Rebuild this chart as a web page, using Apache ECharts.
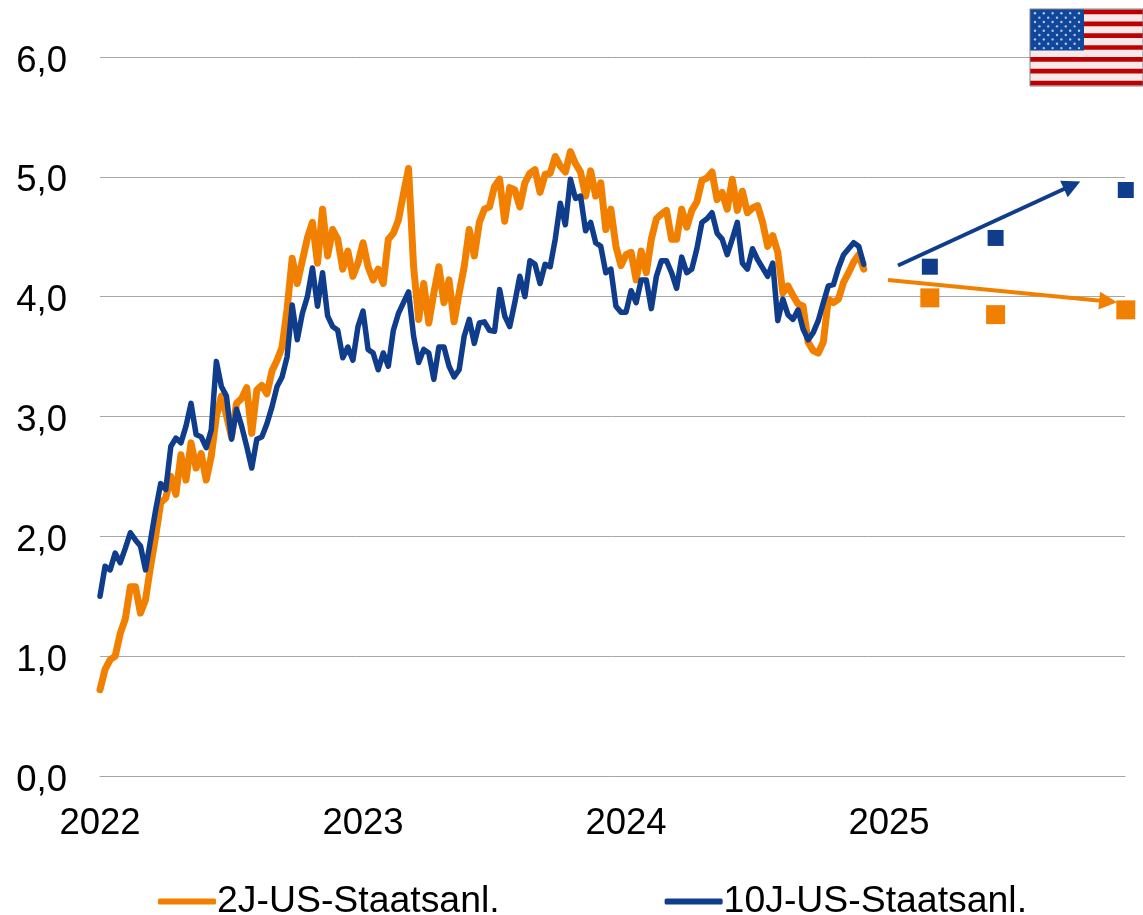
<!DOCTYPE html>
<html>
<head>
<meta charset="utf-8">
<title>US-Staatsanleihen</title>
<style>
  html, body { margin: 0; padding: 0; background: #fff; }
  #chart { width: 1143px; height: 915px; }
</style>
<script src="https://cdn.jsdelivr.net/npm/echarts@6/dist/echarts.min.js"></script>
</head>
<body>
<div id="chart"></div>
<script>
// wochenwerte
const twoYear = [
  0.72, 0.89, 0.97, 1.0, 1.19, 1.31, 1.58, 1.58, 1.36, 1.47,
  1.75, 2.0, 2.28, 2.32, 2.5, 2.35, 2.68, 2.47, 2.78, 2.57,
  2.69, 2.47, 2.67, 3.0, 3.17, 3.01, 2.83, 3.11, 3.15, 3.24,
  2.86, 3.22, 3.26, 3.19, 3.38, 3.47, 3.58, 3.9, 4.32, 4.11,
  4.3, 4.49, 4.62, 4.28, 4.73, 4.34, 4.56, 4.48, 4.23, 4.38,
  4.17, 4.28, 4.45, 4.25, 4.14, 4.23, 4.11, 4.48, 4.53, 4.64,
  4.86, 5.07, 4.25, 3.81, 4.11, 3.78, 4.03, 4.25, 3.95, 4.14,
  3.79, 4.03, 4.25, 4.56, 4.34, 4.62, 4.73, 4.75, 4.92, 4.98,
  4.63, 4.91, 4.89, 4.75, 4.95, 5.03, 5.06, 4.87, 5.02, 5.03,
  5.17, 5.09, 5.04, 5.21, 5.11, 5.04, 4.84, 5.05, 4.84, 4.95,
  4.56, 4.73, 4.42, 4.26, 4.35, 4.37, 4.14, 4.38, 4.2, 4.48,
  4.65, 4.69, 4.72, 4.48, 4.48, 4.73, 4.58, 4.72, 4.79, 4.97,
  4.99, 5.04, 4.81, 4.87, 4.73, 4.98, 4.72, 4.88, 4.7, 4.74,
  4.76, 4.62, 4.42, 4.51, 4.37, 4.03, 4.09, 4.01, 3.94, 3.92,
  3.62, 3.55, 3.53, 3.62, 3.98, 3.95, 3.98, 4.12, 4.2, 4.29,
  4.35, 4.23
]
const tenYear = [
  1.5, 1.75, 1.72, 1.86, 1.78, 1.9, 2.03, 1.97, 1.92, 1.72,
  1.97, 2.22, 2.44, 2.39, 2.75, 2.82, 2.78, 2.92, 3.11, 2.85,
  2.83, 2.74, 2.89, 3.46, 3.25, 3.17, 2.81, 3.06, 2.92, 2.75,
  2.57, 2.81, 2.83, 2.94, 3.08, 3.25, 3.33, 3.5, 3.93, 3.64,
  3.86, 4.0, 4.24, 3.92, 4.2, 3.84, 3.75, 3.72, 3.49, 3.58,
  3.47, 3.75, 3.88, 3.56, 3.53, 3.39, 3.53, 3.42, 3.72, 3.86,
  3.95, 4.04, 3.67, 3.45, 3.56, 3.53, 3.31, 3.58, 3.58, 3.42,
  3.33, 3.39, 3.67, 3.81, 3.61, 3.78, 3.79, 3.72, 3.71, 4.06,
  3.84, 3.75, 3.95, 4.17, 4.0, 4.3, 4.27, 4.11, 4.27, 4.25,
  4.48, 4.78, 4.6, 4.98, 4.82, 4.84, 4.55, 4.62, 4.45, 4.42,
  4.2, 4.23, 3.92, 3.87, 3.87, 4.05, 3.95, 4.14, 4.14, 3.9,
  4.17, 4.3, 4.3, 4.2, 4.07, 4.33, 4.2, 4.23, 4.4, 4.62,
  4.65, 4.7, 4.53, 4.48, 4.35, 4.48, 4.62, 4.28, 4.23, 4.4,
  4.31, 4.24, 4.17, 4.28, 3.8, 3.98, 3.85, 3.81, 3.89, 3.73,
  3.64, 3.7, 3.8, 3.95, 4.09, 4.1, 4.24, 4.35, 4.4, 4.45,
  4.42, 4.27
]

// prognosen
const forecastDates = [2025.155, 2025.405, 2025.9]
const twoYearForecast = [3.99, 3.85, 3.89]
const tenYearForecast = [4.25, 4.49, 4.89]

// pfeile: [start, ende]
const twoYearArrowX = [2024.996, 2025.833]
const twoYearArrowY = [4.14, 3.96]
const tenYearArrowX = [2025.034, 2025.696]
const tenYearArrowY = [4.26, 4.93]

const startYear = 2022
const endYear = 2025.897
const yMax = 6

const ORANGE = '#f28000'
const BLUE = '#0f3d8c'
const FONT = '"Liberation Sans", Arial, sans-serif'

const weekly = (values) => values.map((v, i) => [startYear + i / 52, v])
const forecast = (values) => values.map((v, i) => [forecastDates[i], v])

const arrow = (xs, ys, color) => ({
  silent: true,
  symbol: ['none', 'triangle'],
  symbolSize: 18,
  label: { show: false },
  emphasis: { disabled: true },
  lineStyle: { color, width: 4, type: 'solid' },
  data: [[{ coord: [xs[0], ys[0]] }, { coord: [xs[1], ys[1]] }]]
})

// flagge oben rechts
function flagElements() {
  const left = 1030
  const top = 9
  const width = 113
  const stripe = 77 / 13
  const els = []
  const z = 50
  els.push({ type: 'rect', z, shape: { x: left, y: top, width, height: 77 }, style: { fill: '#f6e9e9' } })
  for (let i = 0; i < 13; i += 2) {
    els.push({ type: 'rect', z, shape: { x: left, y: top + i * stripe + 0.6, width, height: stripe - 1.2 }, style: { fill: '#c00000' } })
  }
  els.push({ type: 'rect', z, shape: { x: left, y: top, width: 54, height: stripe * 7 }, style: { fill: '#11479b' } })
  for (let row = 0; row < 9; row++) {
    const even = row % 2 === 0
    const count = even ? 6 : 5
    for (let c = 0; c < count; c++) {
      els.push({
        type: 'circle',
        z,
        shape: { cx: left + (even ? 5 : 9.4) + c * 8.8, cy: top + 4.3 + row * 4.35, r: 1.2 },
        style: { fill: '#b5c8e6' }
      })
    }
  }
  els.push({
    type: 'rect',
    z,
    shape: { x: left, y: top, width, height: 77 },
    style: { fill: 'none', stroke: '#808080', lineWidth: 1 }
  })
  return els
}

const myChart = echarts.init(document.getElementById('chart'), null, { renderer: 'canvas' })

const option = {
  animation: false,
  backgroundColor: '#fff',
  textStyle: { fontFamily: FONT },
  grid: { left: 100, right: 18, top: 57, bottom: 139, containLabel: false },
  legend: {
    left: 153,
    top: 878,
    itemWidth: 58,
    itemHeight: 6,
    itemGap: 165,
    icon: 'roundRect',
    data: ['2J-US-Staatsanl.', '10J-US-Staatsanl.'],
    textStyle: { color: '#000', fontSize: 37.4, fontFamily: FONT, padding: [0, 0, 0, -4] }
  },
  xAxis: {
    type: 'value',
    min: startYear,
    max: endYear,
    interval: 1,
    splitLine: { show: false },
    axisTick: { show: false },
    axisLine: { onZero: false, lineStyle: { color: '#a6a6a6', width: 1 } },
    axisLabel: {
      color: '#000',
      fontSize: 36.5,
      fontFamily: FONT,
      margin: 29,
      showMaxLabel: false,
      formatter: (v) => (Number.isInteger(v) ? String(v) : '')
    }
  },
  yAxis: {
    type: 'value',
    min: 0,
    max: yMax,
    interval: 1,
    axisLine: { show: false },
    axisTick: { show: false },
    splitLine: { lineStyle: { color: '#a8a8a8', width: 1 } },
    axisLabel: {
      margin: 33,
      formatter: (v) => '{v|' + v.toFixed(1).replace('.', ',') + '}',
      rich: {
        // etwas tiefer als die gitterlinie
        v: { color: '#000', fontSize: 36.5, fontFamily: FONT, lineHeight: 46, verticalAlign: 'bottom' }
      }
    }
  },
  series: [
    {
      name: '2J-US-Staatsanl.',
      type: 'line',
      data: weekly(twoYear),
      showSymbol: false,
      symbol: 'none',
      lineStyle: { color: ORANGE, width: 7, cap: 'round', join: 'round' },
      itemStyle: { color: ORANGE },
      z: 3
    },
    {
      name: '10J-US-Staatsanl.',
      type: 'line',
      data: weekly(tenYear),
      showSymbol: false,
      symbol: 'none',
      lineStyle: { color: BLUE, width: 5.5, cap: 'round', join: 'round' },
      itemStyle: { color: BLUE },
      z: 4
    },
    {
      name: '2J Prognose',
      type: 'scatter',
      data: forecast(twoYearForecast),
      symbol: 'rect',
      symbolSize: 19,
      clip: false,
      itemStyle: { color: ORANGE, opacity: 1 },
      markLine: arrow(twoYearArrowX, twoYearArrowY, ORANGE),
      z: 5
    },
    {
      name: '10J Prognose',
      type: 'scatter',
      data: forecast(tenYearForecast),
      symbol: 'rect',
      symbolSize: 16,
      clip: false,
      itemStyle: { color: BLUE, opacity: 1 },
      markLine: arrow(tenYearArrowX, tenYearArrowY, BLUE),
      z: 5
    }
  ],
  graphic: { elements: flagElements() }
}

myChart.setOption(option)
</script>
</body>
</html>
